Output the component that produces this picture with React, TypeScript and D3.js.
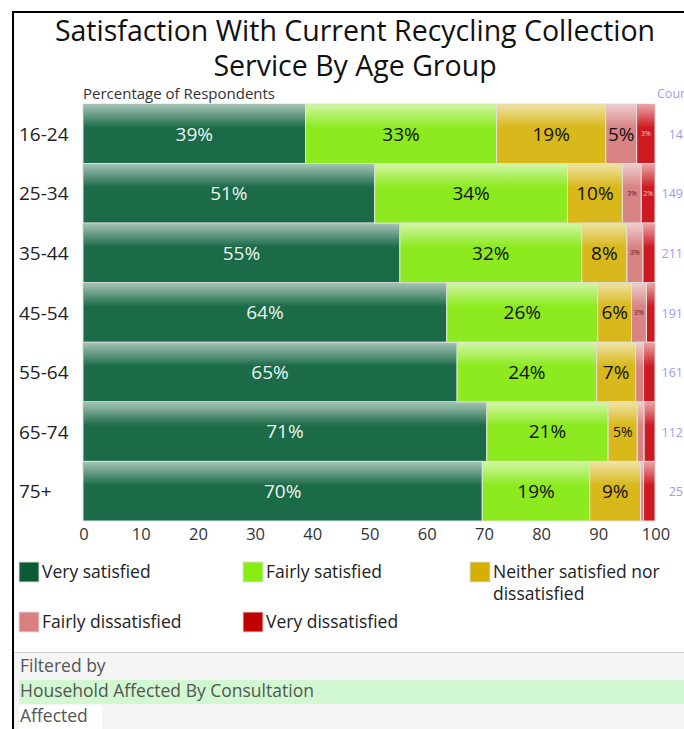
import React, { useRef, useEffect } from 'react'
import * as d3 from 'd3'

const ageGroups = ['16-24', '25-34', '35-44', '45-54', '55-64', '65-74', '75+']
const categories = ['Very satisfied', 'Fairly satisfied', 'Neither satisfied nor dissatisfied', 'Fairly dissatisfied', 'Very dissatisfied']
const verySatisfied = [38.9, 51.0, 55.4, 63.6, 65.4, 70.6, 69.8]
const fairlySatisfied = [33.4, 33.7, 31.8, 26.4, 24.4, 21.2, 18.8]
const neither = [19.1, 9.6, 7.9, 5.9, 6.8, 5.1, 8.9]
const fairlyDissatisfied = [5.4, 3.3, 2.8, 2.6, 1.4, 1.2, 0.5]
const veryDissatisfied = [3.2, 2.4, 2.1, 1.5, 2.0, 1.9, 2.0]
const counts = [14, 149, 211, 191, 161, 112, 25]
const xTicks = [0, 10, 20, 30, 40, 50, 60, 70, 80, 90, 100]

const barColors = ['#1b6a48', '#8cea1e', '#d8b81a', '#d88484', '#cc1a20']
const legendColors = ['#0b5b36', '#88ee12', '#d6b000', '#d98080', '#c20000']
const FONT = '"Open Sans", "Noto Sans", sans-serif'

export default function App() {
  const ref = useRef<SVGSVGElement>(null)

  useEffect(() => {
    const svg = d3.select(ref.current)
    svg.selectAll('*').remove()

    const rows = ageGroups.map((age, i) => ({
      age,
      [categories[0]]: verySatisfied[i],
      [categories[1]]: fairlySatisfied[i],
      [categories[2]]: neither[i],
      [categories[3]]: fairlyDissatisfied[i],
      [categories[4]]: veryDissatisfied[i],
    }))
    const series = d3.stack<any>().keys(categories)(rows)

    const x = d3.scaleLinear().domain([0, 100]).range([83, 655])
    const y = d3.scaleBand().domain(ageGroups).range([104, 521]).padding(0)
    const color = d3.scaleOrdinal<string>().domain(categories).range(barColors)

    const defs = svg.append('defs')
    const grad = defs.append('linearGradient').attr('id', 'gloss').attr('x1', 0).attr('x2', 0).attr('y1', 0).attr('y2', 1)
    grad.append('stop').attr('offset', '0%').attr('stop-color', '#fff').attr('stop-opacity', 0.6)
    grad.append('stop').attr('offset', '40%').attr('stop-color', '#fff').attr('stop-opacity', 0)
    grad.append('stop').attr('offset', '100%').attr('stop-color', '#fff').attr('stop-opacity', 0)

    // outer frame
    svg.append('path').attr('d', 'M13,729 L13,12 L684,12').attr('fill', 'none').attr('stroke', '#000').attr('stroke-width', 2)

    // title, two lines
    svg.append('g').selectAll('text')
      .data(['Satisfaction With Current Recycling Collection', 'Service By Age Group']).join('text')
      .attr('x', 355).attr('y', (d, i) => 41 + i * 35).attr('text-anchor', 'middle')
      .attr('font-family', FONT).attr('font-size', 28.5).attr('fill', '#111').text(d => d)

    svg.append('text').attr('x', 83).attr('y', 99).attr('font-family', FONT).attr('font-size', 15)
      .attr('fill', '#333').text('Percentage of Respondents')
    svg.append('text').attr('x', 657).attr('y', 98).attr('font-family', FONT).attr('font-size', 12.5)
      .attr('fill', '#9b9bf2').text('Count')

    // bars
    const layer = svg.append('g').selectAll('g').data(series).join('g')
    layer.selectAll('g.seg').data(d => d.map(s => ({ s, key: d.key }))).join('g').attr('class', 'seg')
      .each(function (d: any) {
        const g = d3.select(this)
        const x0 = x(d.s[0]), x1 = x(d.s[1])
        const yy = y(d.s.data.age)!, h = y.bandwidth()
        const w = x1 - x0
        if (w <= 0) return
        g.append('rect').attr('x', x0).attr('y', yy).attr('width', w).attr('height', h)
          .attr('fill', color(d.key)).attr('stroke', '#e2e2e2').attr('stroke-width', 1)
        g.append('rect').attr('x', x0 + 0.5).attr('y', yy + 0.5).attr('width', Math.max(0, w - 1)).attr('height', h - 1)
          .attr('fill', 'url(#gloss)')
        const v = d.s[1] - d.s[0]
        let fs = 0
        if (w >= 30) fs = 19
        else if (w >= 22) fs = 14
        else if (w >= 13) fs = 7
        if (fs) {
          let fill = '#111'
          if (d.key === categories[0]) fill = '#eef5ef'
          else if (d.key === categories[4]) fill = '#f6d0d0'
          else if (fs === 7) fill = '#5a2020'
          g.append('text').attr('x', (x0 + x1) / 2).attr('y', yy + h / 2 + fs * 0.36)
            .attr('text-anchor', 'middle').attr('font-family', FONT).attr('font-size', fs)
            .attr('fill', fill).text(Math.round(v) + '%')
        }
      })

    // y labels
    svg.append('g').selectAll('text').data(ageGroups).join('text')
      .attr('x', 19).attr('y', d => y(d)! + y.bandwidth() / 2 + 7)
      .attr('font-family', FONT).attr('font-size', 19).attr('fill', '#222').text(d => d)

    // counts
    svg.append('g').selectAll('text').data(counts).join('text')
      .attr('x', 683).attr('y', (d, i) => y(ageGroups[i])! + y.bandwidth() / 2 + 5)
      .attr('text-anchor', 'end').attr('font-family', FONT).attr('font-size', 12.5).attr('fill', '#9b9bf2')
      .text(d => d)

    // x axis labels
    svg.append('g').selectAll('text').data(xTicks).join('text')
      .attr('x', d => x(d) + 1).attr('y', 540).attr('text-anchor', 'middle')
      .attr('font-family', FONT).attr('font-size', 16.5).attr('fill', '#333').text(d => d)

    // legend
    const legendPos = [[19, 562], [243, 562], [470, 562], [19, 612], [243, 612]]
    const leg = svg.append('g').selectAll('g').data(categories).join('g')
      .attr('transform', (d, i) => `translate(${legendPos[i][0]},${legendPos[i][1]})`)
    leg.append('rect').attr('width', 20).attr('height', 20).attr('fill', (d, i) => legendColors[i])
      .attr('stroke', '#ddd').attr('stroke-width', 1)
    leg.append('text').attr('font-family', FONT).attr('font-size', 17.5).attr('fill', '#222')
      .each(function (d) {
        const t = d3.select(this)
        const lines = d === categories[2] ? ['Neither satisfied nor', 'dissatisfied'] : [d]
        lines.forEach((l, j) => t.append('tspan').attr('x', 23).attr('y', 16 + j * 22).text(l))
      })

    // filter panel
    svg.append('rect').attr('x', 14).attr('y', 653).attr('width', 670).attr('height', 76).attr('fill', '#f5f5f5')
    svg.append('line').attr('x1', 14).attr('x2', 684).attr('y1', 652.5).attr('y2', 652.5).attr('stroke', '#cfcfcf')
    svg.append('rect').attr('x', 19).attr('y', 680).attr('width', 665).attr('height', 24).attr('fill', '#d1f8d1')
    svg.append('rect').attr('x', 19).attr('y', 705).attr('width', 83).attr('height', 24).attr('fill', '#fff')
    const ft = [['Filtered by', 672], ['Household Affected By Consultation', 697], ['Affected', 722]]
    svg.append('g').selectAll('text').data(ft).join('text')
      .attr('x', 20).attr('y', d => d[1] as number).attr('font-family', FONT).attr('font-size', 17.5)
      .attr('fill', '#555').text(d => d[0] as string)
  }, [])

  return (
    <svg ref={ref} width={684} height={729}
      style={{ position: 'absolute', left: 0, top: 0, background: '#fff', display: 'block' }} />
  )
}
